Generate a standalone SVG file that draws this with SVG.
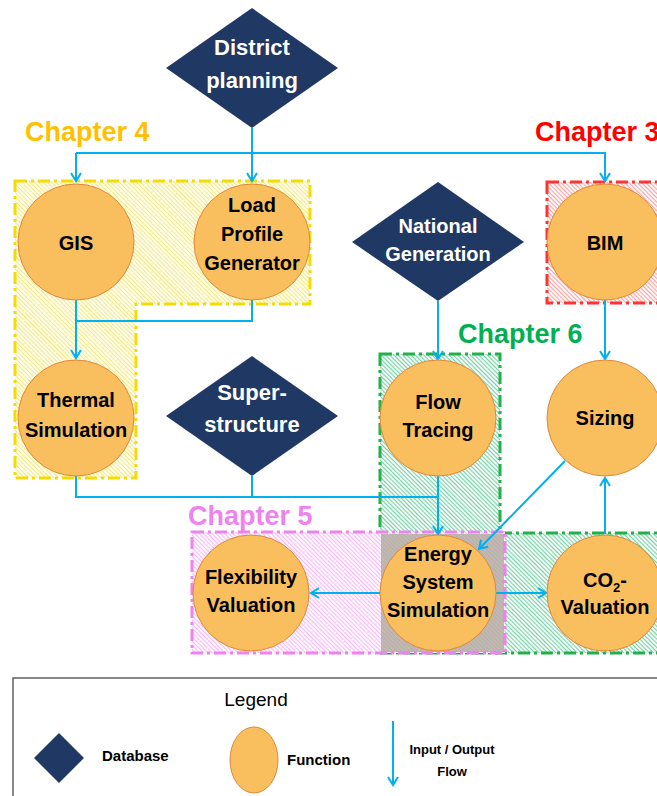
<svg xmlns="http://www.w3.org/2000/svg" width="657" height="796" viewBox="0 0 657 796">
<style>
.fn{fill:#F9BF5E;stroke:#E0873A;stroke-width:1}
.db{fill:#203864}
.t{font-family:"Liberation Sans",Arial,sans-serif;font-weight:bold;text-anchor:middle}
.ft{font-size:20px;fill:#000}
.dt{font-size:22px;fill:#fff}
.ch{font-family:"Liberation Sans",Arial,sans-serif;font-weight:bold;font-size:27px}
.c{fill:none;stroke:#00B0F0;stroke-width:2}
.ca{fill:none;stroke:#00B0F0;stroke-width:2;marker-end:url(#ah)}
.box{stroke-width:3;stroke-dasharray:12 4 3 4}
</style>
<defs>
<marker id="ah" markerUnits="userSpaceOnUse" markerWidth="14" markerHeight="14" refX="9" refY="6" orient="auto">
<path d="M1,1 L9,6 L1,11" fill="none" stroke="#00B0F0" stroke-width="2"/>
</marker>
<pattern id="hy" width="3" height="3" patternUnits="userSpaceOnUse" patternTransform="rotate(-45)">
<rect width="3" height="3" fill="#FFFEF2"/><line x1="0" y1="0" x2="0" y2="3" stroke="#F2DC3C" stroke-width="1.3"/>
</pattern>
<pattern id="hr" width="3" height="3" patternUnits="userSpaceOnUse" patternTransform="rotate(-45)">
<rect width="3" height="3" fill="#FFF6F6"/><line x1="0" y1="0" x2="0" y2="3" stroke="#F27878" stroke-width="1.3"/>
</pattern>
<pattern id="hg" width="3" height="3" patternUnits="userSpaceOnUse" patternTransform="rotate(-45)">
<rect width="3" height="3" fill="#F2FBF6"/><line x1="0" y1="0" x2="0" y2="3" stroke="#3FBF82" stroke-width="1.4"/>
</pattern>
<pattern id="hp" width="3" height="3" patternUnits="userSpaceOnUse" patternTransform="rotate(-45)">
<rect width="3" height="3" fill="#FFF6FF"/><line x1="0" y1="0" x2="0" y2="3" stroke="#F09CF0" stroke-width="1.3"/>
</pattern>
</defs>
<rect width="657" height="796" fill="#fff"/>

<g id="chapters">
<path d="M15,181 H310 V304 H136 V478 H15 Z" fill="url(#hy)" stroke="#F5DC00" class="box"/>
<rect x="547" y="182" width="115" height="121" fill="url(#hr)" stroke="#FF3333" class="box"/>
<path d="M380,354 H500 V533 H662 V653 H380 Z" fill="url(#hg)" stroke="#22B04B" class="box"/>
<rect x="192" y="532" width="313" height="121" fill="url(#hp)" stroke="#EE82EE" class="box"/>
<rect x="381" y="534" width="123" height="118" fill="#A9A596" opacity="0.75"/>
<text class="ch" x="25" y="141" fill="#FFC000">Chapter 4</text>
<text class="ch" x="535" y="141" fill="#FF0000">Chapter 3</text>
<text class="ch" x="458" y="343" fill="#00B050">Chapter 6</text>
<text class="ch" x="188" y="525" fill="#EE82EE">Chapter 5</text>
</g>

<g id="connectors">
<path class="ca" d="M76,153 V181"/>
<path class="c" d="M76,153 H252"/>
<path class="ca" d="M252,128 V181"/>
<path class="ca" d="M252,153 H605 V181"/>
<path class="ca" d="M76,300 V358"/>
<path class="c" d="M252,300 V321 H76"/>
<path class="ca" d="M438,301 V359"/>
<path class="ca" d="M605,300 V359"/>
<path class="c" d="M76,476 V497 H438"/>
<path class="c" d="M252,476 V497"/>
<path class="ca" d="M438,476 V534"/>
<path class="ca" d="M565,461 L479,549"/>
<path class="ca" d="M605,534 V478"/>
<path class="ca" d="M496,593 H546"/>
<path class="ca" d="M381,593 H311"/>
</g>

<g id="district-planning">
<polygon class="db" points="252,8 338,68 252,128 166,68"/>
<text class="t dt" x="252" y="55">District</text>
<text class="t dt" x="252" y="88">planning</text>
</g>
<g id="gis">
<circle class="fn" cx="76" cy="242" r="58"/>
<text class="t ft" x="76" y="250">GIS</text>
</g>
<g id="load-profile-generator">
<circle class="fn" cx="252" cy="242" r="58"/>
<text class="t ft" x="252" y="212">Load</text>
<text class="t ft" x="252" y="241">Profile</text>
<text class="t ft" x="252" y="270">Generator</text>
</g>
<g id="national-generation">
<polygon class="db" points="438,182 524,242 438,301 352,242"/>
<text class="t" x="438" y="233" font-size="20" fill="#fff">National</text>
<text class="t" x="438" y="261" font-size="20" fill="#fff">Generation</text>
</g>
<g id="bim">
<circle class="fn" cx="605" cy="242" r="58"/>
<text class="t ft" x="605" y="250">BIM</text>
</g>
<g id="thermal-simulation">
<circle class="fn" cx="76" cy="418" r="58"/>
<text class="t ft" x="76" y="407">Thermal</text>
<text class="t ft" x="76" y="437">Simulation</text>
</g>
<g id="superstructure">
<polygon class="db" points="252,356 338,416 252,476 166,416"/>
<text class="t dt" x="252" y="400">Super-</text>
<text class="t dt" x="252" y="432">structure</text>
</g>
<g id="flow-tracing">
<circle class="fn" cx="438" cy="418" r="58"/>
<text class="t ft" x="438" y="409">Flow</text>
<text class="t ft" x="438" y="437">Tracing</text>
</g>
<g id="sizing">
<circle class="fn" cx="605" cy="418" r="58"/>
<text class="t ft" x="605" y="425">Sizing</text>
</g>
<g id="flexibility-valuation">
<circle class="fn" cx="251" cy="593" r="58"/>
<text class="t ft" x="251" y="584">Flexibility</text>
<text class="t ft" x="251" y="612">Valuation</text>
</g>
<g id="energy-system-simulation">
<circle class="fn" cx="438" cy="593" r="58"/>
<text class="t ft" x="438" y="561">Energy</text>
<text class="t ft" x="438" y="589">System</text>
<text class="t ft" x="438" y="617">Simulation</text>
</g>
<g id="co2-valuation">
<circle class="fn" cx="605" cy="593" r="58"/>
<text class="t ft" x="605" y="587">CO<tspan font-size="13" dy="5">2</tspan><tspan dy="-5">-</tspan></text>
<text class="t ft" x="605" y="614">Valuation</text>
</g>

<g id="legend">
<rect x="13" y="678" width="660" height="130" fill="#fff" stroke="#606060" stroke-width="1.5"/>
<text x="256" y="706" font-family="'Liberation Sans',Arial,sans-serif" font-size="19" text-anchor="middle" fill="#000">Legend</text>
<polygon class="db" points="59,733 84,758 59,783 34,758"/>
<text x="102" y="761" font-family="'Liberation Sans',Arial,sans-serif" font-weight="bold" font-size="15" fill="#000">Database</text>
<ellipse class="fn" cx="254" cy="760" rx="24" ry="33"/>
<text x="287" y="765" font-family="'Liberation Sans',Arial,sans-serif" font-weight="bold" font-size="15" fill="#000">Function</text>
<path class="ca" d="M393,721 V785"/>
<text class="t" x="452" y="754" font-size="13" fill="#000">Input / Output</text>
<text class="t" x="452" y="776" font-size="13" fill="#000">Flow</text>
</g>
</svg>
